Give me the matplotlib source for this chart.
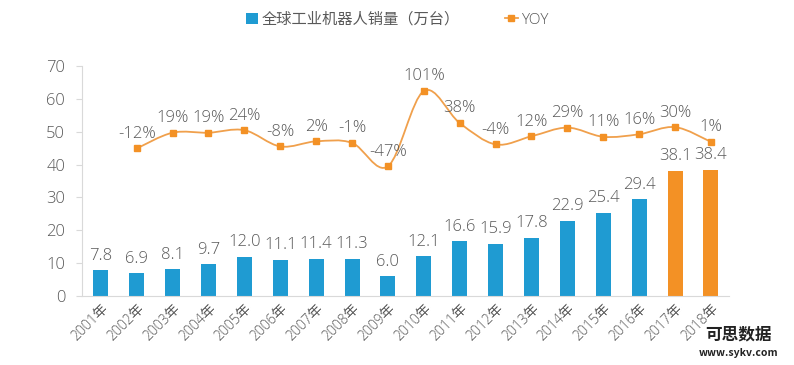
import numpy as np
import matplotlib
matplotlib.use("Agg")
import matplotlib.pyplot as plt
from matplotlib.path import Path
from matplotlib.patches import PathPatch, Patch
from matplotlib.lines import Line2D
from matplotlib import font_manager

plt.rcParams['font.family'] = ['Noto Sans CJK SC', 'DejaVu Sans']

# ── data ──
years = ["2001年", "2002年", "2003年", "2004年", "2005年", "2006年", "2007年", "2008年",
         "2009年", "2010年", "2011年", "2012年", "2013年", "2014年", "2015年", "2016年",
         "2017年", "2018年"]
sales = [7.8, 6.9, 8.1, 9.7, 12.0, 11.1, 11.4, 11.3, 6.0, 12.1, 16.6, 15.9, 17.8,
         22.9, 25.4, 29.4, 38.1, 38.4]
yoy = [None, -12, 19, 19, 24, -8, 2, -1, -47, 101, 38, -4, 12, 29, 11, 16, 30, 1]

BLUE = "#1f9bd2"
ORANGE = "#f39125"
LINE = "#f0a04c"
TXT = "#595959"

# light font for numbers, CJK fallback for 年 etc.
names = {f.name for f in font_manager.fontManager.ttflist}
LIGHT = [n for n in ["Open Sans", "Lato", "Roboto"] if n in names][:1] + ['Noto Sans CJK SC', 'DejaVu Sans']

fig = plt.figure(figsize=(7.94, 3.65), dpi=100)
ax = fig.add_axes([0.103, 0.189, 0.815, 0.630])

x = np.arange(len(years))
colors = [BLUE] * 16 + [ORANGE] * 2
ax.bar(x, sales, width=0.42, color=colors, zorder=2)
for xi, v in zip(x, sales):
    ax.text(xi, v + 2.0, f"{v:.1f}", ha="center", va="bottom", fontsize=12,
            color=TXT, family=LIGHT, fontweight="light")

ax.set_ylim(0, 70)
ax.set_xlim(-0.53, 17.5)
ax.set_yticks(range(0, 71, 10))
ax.tick_params(axis="y", length=4, color="#d9d9d9", labelcolor=TXT, labelsize=12, pad=8)
ax.tick_params(axis="x", length=0, labelcolor=TXT, labelsize=10, pad=4)
ax.set_xticks(x)
ax.set_xticklabels(years, rotation=45, ha="right", rotation_mode="anchor")
for lab in ax.get_yticklabels() + ax.get_xticklabels():
    lab.set_family(LIGHT)
    lab.set_fontweight("light")
for s in ["top", "right"]:
    ax.spines[s].set_visible(False)
ax.spines["left"].set_color("#d9d9d9")
ax.spines["bottom"].set_color("#d9d9d9")

# secondary axis for YOY (hidden)
ax2 = ax.twinx()
ax2.set_ylim(-302, 150)
ax2.axis("off")
ax2.set_xlim(ax.get_xlim())

px = np.array([i for i, v in enumerate(yoy) if v is not None], dtype=float)
py = np.array([v for v in yoy if v is not None], dtype=float)

# smooth line through the points (Catmull-Rom -> cubic Bezier)
verts = [(px[0], py[0])]
codes = [Path.MOVETO]
n = len(px)
for i in range(n - 1):
    p0 = np.array([px[max(i - 1, 0)], py[max(i - 1, 0)]])
    p1 = np.array([px[i], py[i]])
    p2 = np.array([px[i + 1], py[i + 1]])
    p3 = np.array([px[min(i + 2, n - 1)], py[min(i + 2, n - 1)]])
    c1 = p1 + (p2 - p0) / 6.0
    c2 = p2 - (p3 - p1) / 6.0
    verts += [tuple(c1), tuple(c2), tuple(p2)]
    codes += [Path.CURVE4] * 3
ax2.add_patch(PathPatch(Path(verts, codes), facecolor="none", edgecolor=LINE, lw=1.3, zorder=3))
ax2.plot(px, py, linestyle="none", marker="s", markersize=5, color=ORANGE, zorder=4)
for xi, v in zip(px, py):
    ax2.text(xi, v + 13, f"{int(v)}%", ha="center", va="bottom", fontsize=12,
             color=TXT, family=LIGHT, fontweight="light")

handles = [Patch(facecolor=BLUE, edgecolor="none"),
           Line2D([0], [0], color=LINE, lw=1.3, marker="s", markersize=5,
                  markerfacecolor=ORANGE, markeredgecolor=ORANGE)]
leg = fig.legend(handles, ["全球工业机器人销量（万台）", "YOY"], loc="center",
                 bbox_to_anchor=(0.50, 0.945), ncol=2, frameon=False, fontsize=11,
                 labelcolor=TXT, handlelength=0.8, handletextpad=0.2, columnspacing=3.0)
for t in leg.get_texts():
    t.set_family(LIGHT)
    t.set_fontweight("light")

fig.text(0.93, 0.07, "可思数据", fontsize=12, fontweight="bold", color="#222222", ha="center")
fig.text(0.93, 0.025, "www.sykv.com", fontsize=7.5, fontweight="bold", color="#222222", ha="center")

fig.savefig("out.png", dpi=100)
